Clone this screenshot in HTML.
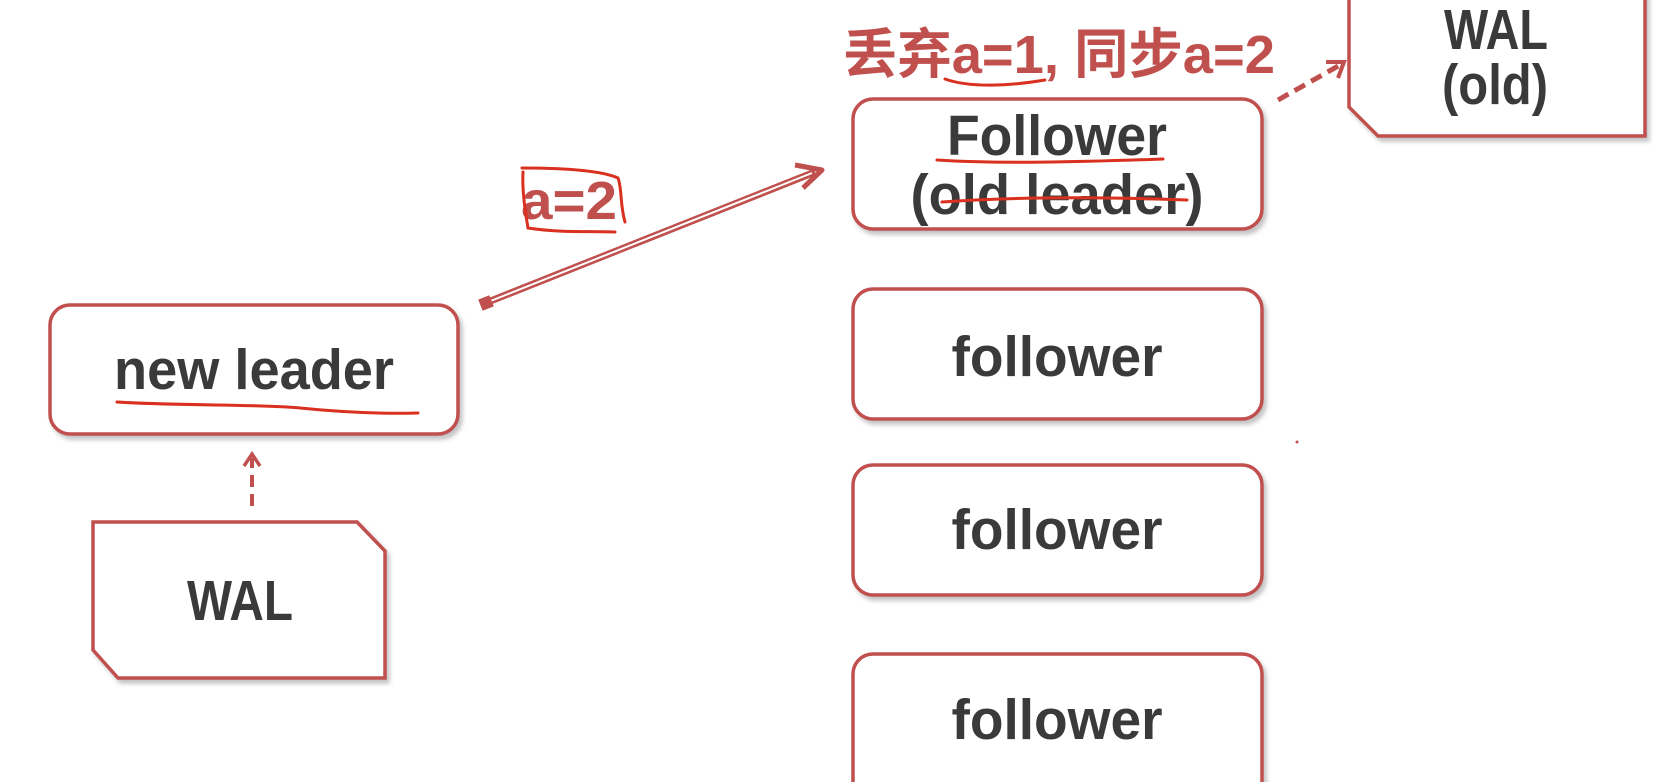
<!DOCTYPE html>
<html><head><meta charset="utf-8"><style>
html,body{margin:0;padding:0;background:#fff;width:1668px;height:782px;overflow:hidden}
svg{display:block}
.t{font-family:"Liberation Sans","Noto Sans CJK SC",sans-serif;font-weight:bold;fill:#3a3a3a;font-size:57px}
.r{font-family:"Liberation Sans","Noto Sans CJK SC",sans-serif;font-weight:bold;fill:#c0504d;font-size:54px}
.b{fill:#fff;stroke:#c0504d;stroke-width:3.5}
.ink{fill:none;stroke:#d9301f;stroke-width:3;stroke-linecap:round}
</style></head><body>
<svg width="1668" height="782" viewBox="0 0 1668 782" xmlns="http://www.w3.org/2000/svg">
<defs><filter id="s" x="-5%" y="-5%" width="115%" height="120%"><feDropShadow dx="3" dy="4" stdDeviation="2" flood-color="#888" flood-opacity="0.5"/></filter></defs>
<g filter="url(#s)">
<rect class="b" x="50" y="305" width="408" height="129" rx="20"/>
<path class="b" d="M93,522 H357 L385,551 V678 H118 L93,650 Z"/>
<rect class="b" x="853" y="99" width="409" height="130" rx="20"/>
<rect class="b" x="853" y="289" width="409" height="130" rx="20"/>
<rect class="b" x="853" y="465" width="409" height="130" rx="20"/>
<rect class="b" x="853" y="654" width="409" height="150" rx="20"/>
<path class="b" d="M1349,-10 H1645 V136 H1378 L1349,107 Z"/>
</g>
<text class="t" x="254" y="389" text-anchor="middle" textLength="280" lengthAdjust="spacingAndGlyphs">new leader</text>
<text class="t" x="240" y="620" text-anchor="middle" textLength="106" lengthAdjust="spacingAndGlyphs">WAL</text>
<text class="t" x="1057" y="155" text-anchor="middle" textLength="220" lengthAdjust="spacingAndGlyphs">Follower</text>
<text class="t" x="1057" y="214" text-anchor="middle" textLength="293" lengthAdjust="spacingAndGlyphs">(old leader)</text>
<text class="t" x="1057" y="376" text-anchor="middle" textLength="211" lengthAdjust="spacingAndGlyphs">follower</text>
<text class="t" x="1057" y="549" text-anchor="middle" textLength="211" lengthAdjust="spacingAndGlyphs">follower</text>
<text class="t" x="1057" y="739" text-anchor="middle" textLength="211" lengthAdjust="spacingAndGlyphs">follower</text>
<text class="t" x="1496" y="49" text-anchor="middle" textLength="104" lengthAdjust="spacingAndGlyphs">WAL</text>
<text class="t" x="1495" y="104" text-anchor="middle" textLength="106" lengthAdjust="spacingAndGlyphs">(old)</text>
<text class="r" x="843" y="73" textLength="432" lengthAdjust="spacingAndGlyphs">丢弃a=1, 同步a=2</text>
<text class="r" x="521" y="219" textLength="96" lengthAdjust="spacingAndGlyphs">a=2</text>
<line x1="488" y1="302" x2="815" y2="172" stroke="#c0504d" stroke-width="7"/>
<line x1="488" y1="302" x2="812" y2="173" stroke="#fff" stroke-width="2"/>
<path d="M795,165 L822,170 L803,188" fill="none" stroke="#c0504d" stroke-width="5" stroke-linejoin="round"/>
<rect x="480" y="297" width="12" height="12" fill="#c0504d" transform="rotate(-22 486 303)"/>
<line x1="252" y1="506" x2="252" y2="458" stroke="#c0504d" stroke-width="4" stroke-dasharray="12,7"/>
<path d="M244,466 L252,454 L260,466" fill="none" stroke="#c0504d" stroke-width="3.5"/>
<line x1="1278" y1="100" x2="1340" y2="65" stroke="#c0504d" stroke-width="5" stroke-dasharray="12,7"/>
<path d="M1326,62 L1344,62 L1338,78" fill="none" stroke="#c0504d" stroke-width="4"/>
<path class="ink" d="M117,402 C180,406 260,404 300,408 C340,412 380,414 418,413"/>
<path class="ink" d="M937,160 C1000,164 1080,162 1163,159"/>
<path class="ink" d="M942,202 C1000,198 1080,196 1187,200"/>
<path class="ink" d="M945,79 C970,88 1010,86 1045,80"/>
<path class="ink" d="M522,168 C560,168 600,170 618,178 C622,188 620,205 625,222"/>
<path class="ink" d="M523,172 C522,190 525,210 528,228 C560,233 590,231 615,232"/>
<circle cx="1297" cy="442" r="1.5" fill="#c0504d"/>
</svg>
</body></html>
